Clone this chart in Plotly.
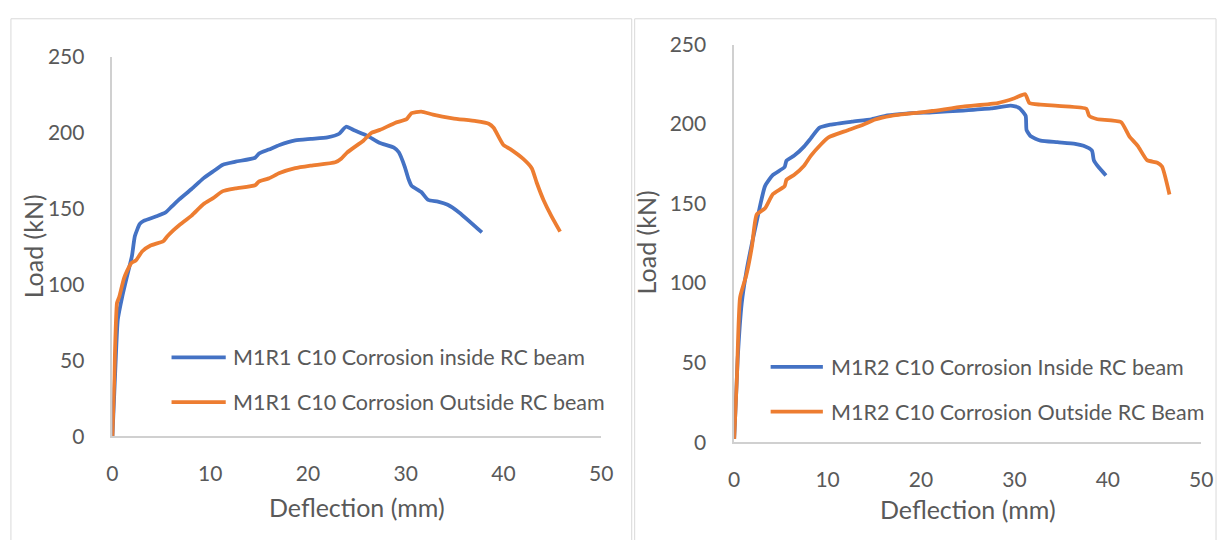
import plotly.graph_objects as go

# Load-deflection data (deflection in mm, load in kN)
m1r1_in_defl = [0, 0.3, 0.55, 1.0, 1.55, 2.0, 2.3, 2.8, 3.2, 4.5, 5.4, 6.0, 6.8, 8.1, 9.3, 10.3,
                11.3, 12.6, 14.6, 15.0, 16.0, 17.1, 18.7, 20.3, 22.0, 23.2, 23.9, 24.8, 26.1,
                27.3, 28.8, 29.3, 29.9, 30.3, 30.6, 31.6, 32.3, 33.3, 34.3, 35.5, 37.8]
m1r1_in_load = [0, 45, 77, 92, 107, 119, 132, 140, 142, 145, 147.4, 151, 156, 163, 170, 174.6,
                179, 181, 183.6, 186.4, 189, 192, 195, 196, 197, 199.4, 204, 201.5, 198,
                193.5, 190.3, 187.2, 177.8, 169.4, 165.2, 161, 155.8, 154.7, 152.6, 147.4, 134.4]

m1r1_out_defl = [0, 0.2, 0.47, 0.7, 1.2, 1.9, 2.4, 3.06, 3.9, 5.2, 5.6, 6.25, 6.8, 8.1, 9.3,
                 10.3, 11.3, 12.6, 14.6, 15.0, 16.0, 17.1, 18.7, 20.3, 22.8, 23.4, 24.0, 25.7,
                 26.5, 27.4, 28.9, 30.1, 30.6, 31.6, 32.8, 34.8, 37.2, 38.5, 39.0, 40.0, 40.7,
                 42.0, 42.9, 43.4, 44.1, 44.9, 45.8]
m1r1_out_load = [0, 41, 88, 92, 104.5, 114, 116, 122, 125.8, 128.6, 131.7, 135.9, 139, 145.5, 153,
                 157, 161.6, 163.4, 165.5, 168, 170, 173.5, 176.7, 178.4, 180.6, 183, 187, 195,
                 200, 202, 206.5, 209, 213, 214, 212, 209.6, 207.7, 206, 203.3, 192, 189.3,
                 183, 176.7, 167.3, 155.8, 145.3, 134.9]

m1r2_in_defl = [0, 0.37, 0.8, 1.3, 1.9, 2.6, 3.3, 4.15, 5.4, 5.6, 6.4, 7.5, 8.2, 9.1, 10.3, 12.6,
                14.7, 16.4, 18.4, 21.2, 24.5, 27.5, 29.6, 30.5, 31.2, 31.3, 31.75, 32.8, 34.6,
                36.5, 37.4, 38.3, 38.5, 39.0, 39.8]
m1r2_in_load = [2, 52, 87, 107, 125, 144, 161, 168, 173, 177, 180, 186, 191, 197.6, 199.6, 201.5,
                203, 205.4, 206.6, 207.4, 208.5, 209.8, 211.6, 210.2, 205.2, 196.2, 192.3, 189.6,
                188.6, 187.6, 186.3, 183.3, 177.3, 173, 167.7]

m1r2_out_defl = [0, 0.3, 0.63, 1.3, 1.9, 2.4, 3.3, 4.15, 5.4, 5.6, 6.4, 7.5, 8.2, 9.25, 10.1, 12.1,
                 13.8, 15.1, 16.8, 19.7, 21.2, 24.5, 28.2, 30.0, 31.15, 31.6, 32.8, 35.0, 37.7,
                 38.0, 38.8, 41.4, 42.3, 43.2, 44.2, 45.3, 45.8, 46.6]
m1r2_out_load = [2, 42, 91, 105, 123, 143, 147, 156, 161, 165, 168, 174, 180, 187, 191.6, 196,
                 199.6, 202.9, 205.2, 207.2, 208.2, 211, 213.2, 216.2, 218.8, 213.2, 212.2, 211.3,
                 209.6, 205.2, 203.2, 201.3, 192.3, 186.3, 177.3, 175.7, 173.3, 155.7]

names_left = ["M1R1 C10 Corrosion inside RC beam", "M1R1 C10 Corrosion Outside RC beam"]
names_right = ["M1R2 C10 Corrosion Inside RC beam", "M1R2 C10 Corrosion Outside RC Beam"]

x_ticks = [0, 10, 20, 30, 40, 50]
y_ticks = [0, 50, 100, 150, 200, 250]
x_title = "Deflection (mm)"
y_title = "Load (kN)"

BLUE = "#4472C4"
ORANGE = "#ED7D31"
TEXT = "#595959"
AXIS = "#D0D0D0"
FONT = "Lato"

W, H = 1230, 540


def px(x):
    return x / W


def py(y):
    return 1 - y / H


fig = go.Figure()
line_style = dict(width=3.8, shape="spline", smoothing=0.5)

fig.add_trace(go.Scatter(x=m1r1_in_defl, y=m1r1_in_load, mode="lines", name=names_left[0],
                         line=dict(color=BLUE, **line_style), xaxis="x", yaxis="y"))
fig.add_trace(go.Scatter(x=m1r1_out_defl, y=m1r1_out_load, mode="lines", name=names_left[1],
                         line=dict(color=ORANGE, **line_style), xaxis="x", yaxis="y"))
fig.add_trace(go.Scatter(x=m1r2_in_defl, y=m1r2_in_load, mode="lines", name=names_right[0],
                         line=dict(color=BLUE, **line_style), xaxis="x2", yaxis="y2"))
fig.add_trace(go.Scatter(x=m1r2_out_defl, y=m1r2_out_load, mode="lines", name=names_right[1],
                         line=dict(color=ORANGE, **line_style), xaxis="x2", yaxis="y2"))

axis_common = dict(showgrid=False, zeroline=False, showline=True, linecolor=AXIS, linewidth=1.5,
                   ticks="", tickfont=dict(family=FONT, size=21, color=TEXT), fixedrange=True)

fig.update_layout(
    width=W, height=H,
    margin=dict(l=0, r=0, t=0, b=0),
    paper_bgcolor="white", plot_bgcolor="white",
    showlegend=False,
    xaxis=dict(domain=[px(108), px(604)], range=[0, 50], tickvals=x_ticks, anchor="y",
               ticklabelstandoff=18, **axis_common),
    yaxis=dict(domain=[py(443), py(45)], range=[0, 250], tickvals=y_ticks, anchor="x",
               ticklabelstandoff=22, **axis_common),
    xaxis2=dict(domain=[px(739), px(1213)], range=[0, 50], tickvals=x_ticks, anchor="y2",
                ticklabelstandoff=18, **axis_common),
    yaxis2=dict(domain=[py(449), py(32)], range=[0, 250], tickvals=y_ticks, anchor="x2",
                ticklabelstandoff=22, **axis_common),
)

# Chart frames
shapes = [
    dict(type="rect", xref="paper", yref="paper", x0=px(5), x1=px(635), y0=py(560), y1=py(5),
         line=dict(color="#D9D9D9", width=1), fillcolor="rgba(0,0,0,0)", layer="below"),
    dict(type="rect", xref="paper", yref="paper", x0=px(638), x1=px(1228), y0=py(560), y1=py(5),
         line=dict(color="#D9D9D9", width=1), fillcolor="rgba(0,0,0,0)", layer="below"),
]

annotations = []

# Legend keys drawn inside each plot area
legend_rows = [
    (names_left, [BLUE, ORANGE], 168, 223, 228, [360, 407]),
    (names_right, [BLUE, ORANGE], 776, 829, 835, [370, 417]),
]
for names, colors, lx0, lx1, tx, ys in legend_rows:
    for name, color, yy in zip(names, colors, ys):
        shapes.append(dict(type="line", xref="paper", yref="paper", x0=px(lx0), x1=px(lx1),
                           y0=py(yy), y1=py(yy), line=dict(color=color, width=3.8)))
        annotations.append(dict(text=name, xref="paper", yref="paper", x=px(tx), y=py(yy),
                                xanchor="left", yanchor="middle", showarrow=False,
                                font=dict(family=FONT, size=21.5, color=TEXT)))

# Axis titles
for cx, cy in [(356, 517), (976, 519)]:
    annotations.append(dict(text=x_title, xref="paper", yref="paper", x=px(cx), y=py(cy),
                            xanchor="center", yanchor="middle", showarrow=False,
                            font=dict(family=FONT, size=25, color=TEXT)))
for cx, cy in [(27, 244), (649, 240)]:
    annotations.append(dict(text=y_title, xref="paper", yref="paper", x=px(cx), y=py(cy),
                            xanchor="center", yanchor="middle", showarrow=False, textangle=-90,
                            font=dict(family=FONT, size=25, color=TEXT)))

fig.update_layout(shapes=shapes, annotations=annotations)

fig.write_html("out.html")
